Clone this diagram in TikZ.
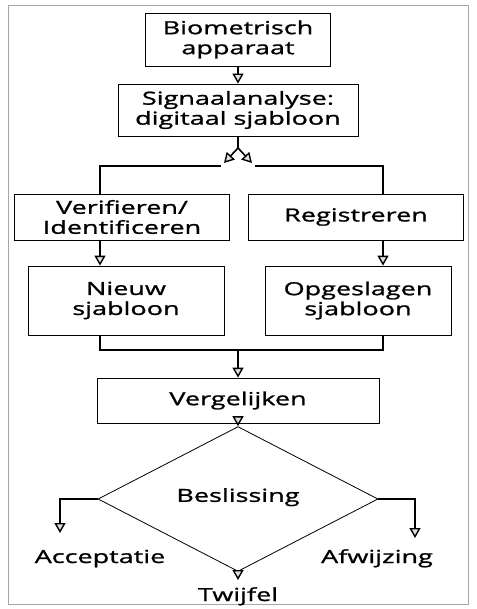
\documentclass[tikz,border=0pt]{standalone}
\usepackage{fontspec}
\setmainfont[FakeStretch=1.5, FakeBold=1.2]{Open Sans}
\usepackage{tikz}
\usetikzlibrary{
	arrows.meta,
	shapes.geometric,
	positioning
}

\begin{document}
\begin{tikzpicture}[x=1pt, y=1pt,
	box/.style={draw, line width=0.8pt, align=center, inner sep=0pt, font=\fontsize{18}{20}\selectfont},
	lijn/.style={line width=1.6pt},
	conn/.style={lijn, -{Triangle[line width=1.4pt, length=10pt, width=11pt, fill=gray!25]}},
	lbl/.style={font=\fontsize{18}{20}\selectfont, inner sep=0pt, anchor=base}]
		\useasboundingbox (0,0) rectangle (476,-609);
		\draw[gray!70, line width=0.6pt] (8,-5) rectangle (468,-604);
		
		% blokken
		\node[box, minimum width=185pt, minimum height=53pt] (bio) at (238,-39.5) {Biometrisch\\apparaat};
		\node[box, minimum width=240pt, minimum height=52pt] (sig) at (238,-110) {Signaalanalyse:\\digitaal sjabloon};
		\node[box, minimum width=215pt, minimum height=46pt] (verif) at (122,-217) {Verifieren/\\Identificeren};
		\node[box, minimum width=215pt, minimum height=46pt] (regis) at (356,-217) {Registreren};
		\node[box, minimum width=196pt, minimum height=69pt] (nieuw) at (126,-300.5) {Nieuw\\sjabloon};
		\node[box, minimum width=186pt, minimum height=69pt] (opges) at (358,-300.5) {Opgeslagen\\sjabloon};
		\node[box, minimum width=282pt, minimum height=45pt] (verg) at (238,-400.5) {Vergelijken};
		\node[box, shape=diamond, minimum width=280pt, minimum height=98pt] (besl) at (238,-499) {\raisebox{8pt}{Beslissing}};
		
		% uitkomsten
		\node[lbl] (acc) at (100,-563) {Acceptatie};
		\node[lbl] (afw) at (377,-563) {Afwijzing};
		\node[lbl] (twijf) at (238,-601) {Twijfel};
		
		\coordinate (split) at (238,-148);
		\coordinate (tipL) at (224,-163);
		\coordinate (tipR) at (252,-163);
		\coordinate (busL) at (221,-166);
		\coordinate (busR) at (255,-166);
		\coordinate (kolL) at (100,-166);
		\coordinate (kolR) at (383,-166);
		\coordinate (samen) at (238,-350);
		\coordinate (naarAcc) at (60,-533);
		\coordinate (naarAfw) at (415,-538);
		\coordinate (naarTw) at (238,-580);
		
		\draw[conn] (bio.south) -- (sig.north);
		% splitsing
		\draw[lijn] (sig.south) -- (split);
		\draw[conn] (split) -- (tipL);
		\draw[conn] (split) -- (tipR);
		\draw[lijn] (busL) -- (kolL) -- (kolL |- verif.north);
		\draw[lijn] (busR) -- (kolR) -- (kolR |- regis.north);
		\draw[conn] (kolL |- verif.south) -- (kolL |- nieuw.north);
		\draw[conn] (kolR |- regis.south) -- (kolR |- opges.north);
		% samenvoegen
		\draw[lijn] (kolL |- nieuw.south) |- (samen) -| (kolR |- opges.south);
		\draw[conn] (samen) -- (verg.north);
		\draw[conn] (verg.south) -- (besl.north);
		% beslissing
		\draw[conn] (besl.west) -| (naarAcc);
		\draw[conn] (besl.east) -| (naarAfw);
		\draw[conn] (besl.south) -- (naarTw);
	\end{tikzpicture}
\end{document}
